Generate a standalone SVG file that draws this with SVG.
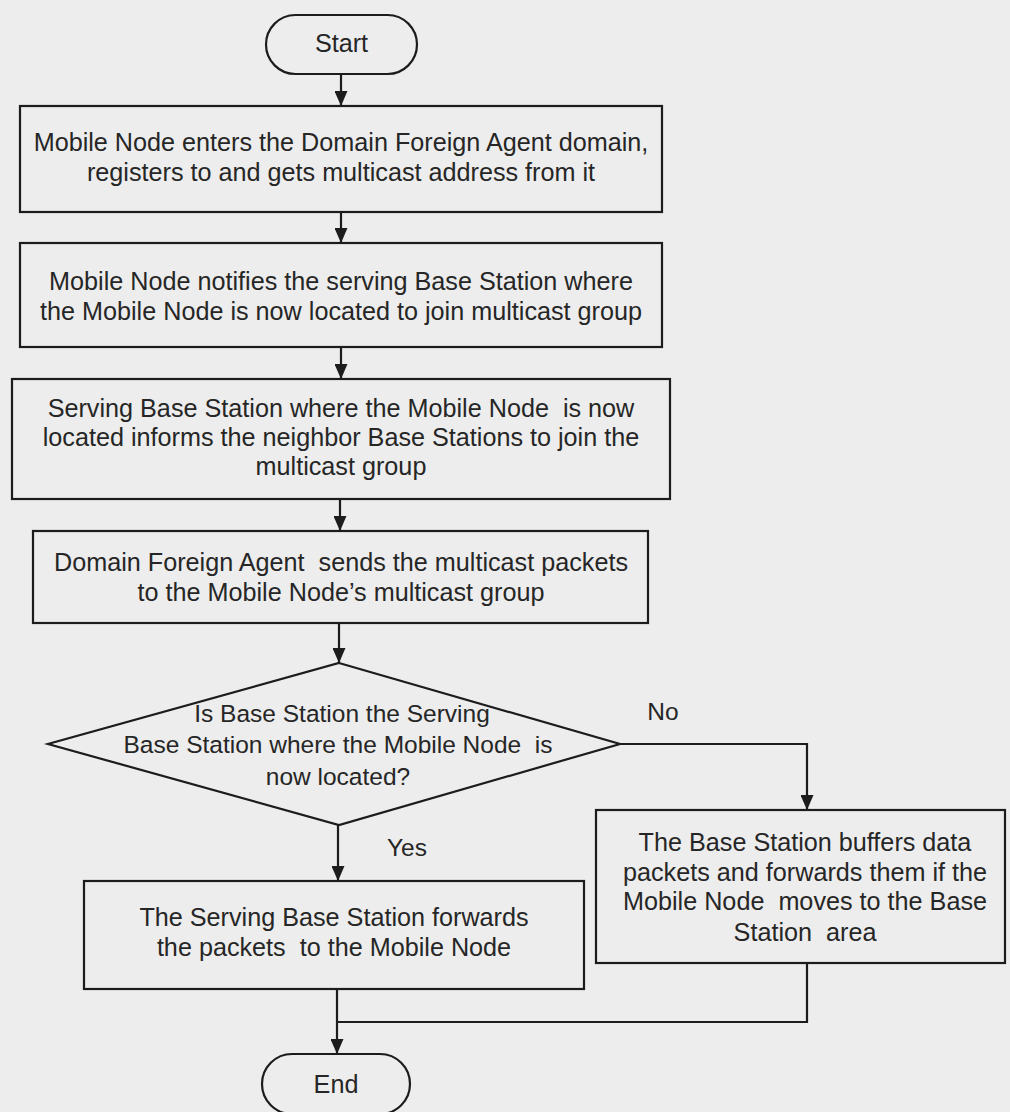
<svg xmlns="http://www.w3.org/2000/svg" width="1010" height="1112" viewBox="0 0 1010 1112" xml:space="preserve">
  <style>
    .shape { fill: none; stroke: #1c1c1c; stroke-width: 2.2; }
    .wire { fill: none; stroke: #1c1c1c; stroke-width: 2.2; }
    .lbl { font-family: "Liberation Sans", Arial, sans-serif; font-size: 25.2px; fill: #262626; text-anchor: middle; white-space: pre; }
    .dlbl { font-family: "Liberation Sans", Arial, sans-serif; font-size: 24.5px; fill: #262626; text-anchor: middle; white-space: pre; }
  </style>
  <defs>
    <marker id="arrow" viewBox="0 0 15 13" refX="15" refY="6.5" markerWidth="15" markerHeight="13" markerUnits="userSpaceOnUse" orient="auto">
      <path d="M0,0 L15,6.5 L0,13 z" fill="#1c1c1c"/>
    </marker>
  </defs>

  <rect width="1010" height="1112" fill="#ededed"/>

  <!-- connectors -->
  <g id="connectors">
    <line class="wire" x1="341" y1="74" x2="341" y2="106" marker-end="url(#arrow)"/>
    <line class="wire" x1="341" y1="212" x2="341" y2="243" marker-end="url(#arrow)"/>
    <line class="wire" x1="341" y1="347" x2="341" y2="379" marker-end="url(#arrow)"/>
    <line class="wire" x1="340" y1="499" x2="340" y2="531" marker-end="url(#arrow)"/>
    <line class="wire" x1="339" y1="623" x2="339" y2="663" marker-end="url(#arrow)"/>
    <polyline class="wire" points="620,744 807,744 807,810" marker-end="url(#arrow)"/>
    <line class="wire" x1="338" y1="825" x2="338" y2="881" marker-end="url(#arrow)"/>
    <line class="wire" x1="337" y1="989" x2="337" y2="1054" marker-end="url(#arrow)"/>
    <polyline class="wire" points="807,963 807,1022 337,1022"/>
    <text class="dlbl" x="663" y="720">No</text>
    <text class="dlbl" x="407" y="856">Yes</text>
  </g>

  <!-- terminator: start -->
  <g id="start">
    <rect class="shape" x="266" y="15" width="151" height="59" rx="29.5"/>
    <text class="lbl" x="341.5" y="52">Start</text>
  </g>

  <!-- step 1 -->
  <g id="enter-domain">
    <rect class="shape" x="20" y="106" width="642" height="106"/>
    <text class="lbl" x="341" y="151">Mobile Node enters the Domain Foreign Agent domain,</text>
    <text class="lbl" x="341" y="181">registers to and gets multicast address from it</text>
  </g>

  <!-- step 2 -->
  <g id="notify-bs">
    <rect class="shape" x="20" y="243" width="642" height="104"/>
    <text class="lbl" x="341" y="290">Mobile Node notifies the serving Base Station where</text>
    <text class="lbl" x="341" y="320">the Mobile Node is now located to join multicast group</text>
  </g>

  <!-- step 3 -->
  <g id="inform-neighbors">
    <rect class="shape" x="12" y="379" width="658" height="120"/>
    <text class="lbl" x="341" y="417">Serving Base Station where the Mobile Node  is now</text>
    <text class="lbl" x="341" y="446">located informs the neighbor Base Stations to join the</text>
    <text class="lbl" x="341" y="475">multicast group</text>
  </g>

  <!-- step 4 -->
  <g id="send-packets">
    <rect class="shape" x="33" y="531" width="615" height="92"/>
    <text class="lbl" x="341" y="571">Domain Foreign Agent  sends the multicast packets</text>
    <text class="lbl" x="341" y="601">to the Mobile Node’s multicast group</text>
  </g>

  <!-- decision -->
  <g id="is-serving">
    <polygon class="shape" points="339,663 620,744 339,825 48,744"/>
    <text class="dlbl" x="342" y="722">Is Base Station the Serving</text>
    <text class="dlbl" x="338" y="753">Base Station where the Mobile Node  is</text>
    <text class="dlbl" x="338" y="785">now located?</text>
  </g>

  <!-- no branch -->
  <g id="buffer">
    <rect class="shape" x="596" y="810" width="409" height="153"/>
    <text class="lbl" x="805" y="851">The Base Station buffers data</text>
    <text class="lbl" x="805" y="881">packets and forwards them if the</text>
    <text class="lbl" x="805" y="910">Mobile Node  moves to the Base</text>
    <text class="lbl" x="805" y="941">Station  area</text>
  </g>

  <!-- yes branch -->
  <g id="forward">
    <rect class="shape" x="84" y="881" width="500" height="108"/>
    <text class="lbl" x="334" y="926">The Serving Base Station forwards</text>
    <text class="lbl" x="334" y="956">the packets  to the Mobile Node</text>
  </g>

  <!-- terminator: end -->
  <g id="end">
    <rect class="shape" x="262" y="1054" width="148" height="60" rx="30"/>
    <text class="lbl" x="336" y="1093">End</text>
  </g>
</svg>
